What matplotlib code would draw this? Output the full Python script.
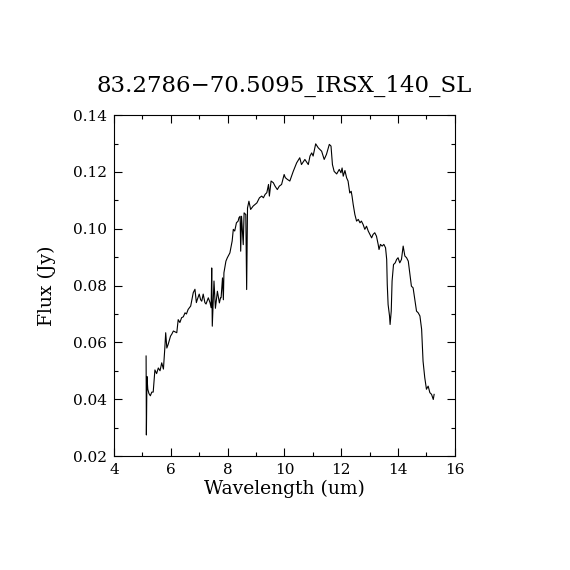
import matplotlib
matplotlib.use("Agg")
import matplotlib.pyplot as plt
from matplotlib.ticker import MultipleLocator

# spectrum (um, Jy)
wavelength = [5.13, 5.14, 5.16, 5.19, 5.23, 5.28, 5.33, 5.38, 5.44, 5.50,
              5.56, 5.62, 5.68, 5.74, 5.79, 5.82, 5.86, 5.91, 5.99, 6.04,
              6.09, 6.21, 6.26, 6.32, 6.38, 6.44, 6.50, 6.55, 6.61, 6.70,
              6.79, 6.85, 6.90, 6.93, 7.00, 7.05, 7.09, 7.14, 7.20, 7.24,
              7.32, 7.38, 7.42, 7.44, 7.46, 7.52, 7.57, 7.64, 7.71, 7.75,
              7.77, 7.82, 7.85, 7.87, 7.94, 7.99, 8.08, 8.16, 8.20, 8.25,
              8.31, 8.37, 8.40, 8.44, 8.46, 8.49, 8.55, 8.58, 8.64, 8.67,
              8.70, 8.75, 8.81, 8.90, 9.03, 9.12, 9.20, 9.26, 9.32, 9.38,
              9.44, 9.47, 9.53, 9.61, 9.67, 9.75, 9.82, 9.90, 9.99, 10.03,
              10.10, 10.19, 10.31, 10.43, 10.54, 10.60, 10.72, 10.84, 10.90, 10.96,
              11.01, 11.10, 11.19, 11.31, 11.40, 11.48, 11.58, 11.64, 11.69, 11.75,
              11.84, 11.93, 11.99, 12.03, 12.07, 12.13, 12.19, 12.24, 12.30, 12.35,
              12.38, 12.42, 12.48, 12.54, 12.60, 12.66, 12.71, 12.77, 12.83, 12.89,
              12.95, 13.01, 13.07, 13.12, 13.18, 13.24, 13.30, 13.33, 13.38, 13.44,
              13.50, 13.56, 13.60, 13.62, 13.65, 13.70, 13.72, 13.76, 13.79, 13.84,
              13.90, 13.95, 14.00, 14.06, 14.12, 14.18, 14.24, 14.30, 14.36, 14.42,
              14.47, 14.53, 14.59, 14.65, 14.71, 14.77, 14.83, 14.88, 14.94, 15.00,
              15.06, 15.12, 15.18, 15.24, 15.27]
flux = [0.0552, 0.0274, 0.0480, 0.0435, 0.0420, 0.0412, 0.0425, 0.0425, 0.0503, 0.0490,
        0.0510, 0.0500, 0.0528, 0.0506, 0.0581, 0.0634, 0.0580, 0.0594, 0.0622, 0.0630,
        0.0640, 0.0634, 0.0680, 0.0670, 0.0687, 0.0690, 0.0704, 0.0700, 0.0716, 0.0728,
        0.0775, 0.0787, 0.0740, 0.0750, 0.0770, 0.0750, 0.0745, 0.0770, 0.0740, 0.0735,
        0.0757, 0.0740, 0.0722, 0.0862, 0.0657, 0.0816, 0.0720, 0.0780, 0.0739, 0.0757,
        0.0757, 0.0827, 0.0750, 0.0845, 0.0886, 0.0898, 0.0915, 0.0957, 0.0998, 0.0992,
        0.1021, 0.1027, 0.1039, 0.1044, 0.0921, 0.1044, 0.0944, 0.1056, 0.1050, 0.0786,
        0.1073, 0.1097, 0.1068, 0.1080, 0.1091, 0.1109, 0.1115, 0.1109, 0.1121, 0.1127,
        0.1156, 0.1115, 0.1168, 0.1162, 0.1150, 0.1138, 0.1150, 0.1156, 0.1191, 0.1180,
        0.1174, 0.1168, 0.1202, 0.1232, 0.1250, 0.1226, 0.1244, 0.1226, 0.1256, 0.1267,
        0.1256, 0.1299, 0.1285, 0.1273, 0.1244, 0.1262, 0.1297, 0.1291, 0.1226, 0.1202,
        0.1193, 0.1209, 0.1197, 0.1214, 0.1185, 0.1205, 0.1179, 0.1168, 0.1126, 0.1132,
        0.1115, 0.1086, 0.1050, 0.1027, 0.1033, 0.1021, 0.1027, 0.1015, 0.0998, 0.1009,
        0.0992, 0.0980, 0.0968, 0.0980, 0.0986, 0.0974, 0.0945, 0.0927, 0.0945, 0.0939,
        0.0945, 0.0933, 0.0892, 0.0804, 0.0733, 0.0693, 0.0663, 0.0710, 0.0816, 0.0874,
        0.0880, 0.0892, 0.0898, 0.0880, 0.0892, 0.0939, 0.0904, 0.0898, 0.0886, 0.0839,
        0.0798, 0.0792, 0.0751, 0.0710, 0.0704, 0.0693, 0.0646, 0.0534, 0.0476, 0.0435,
        0.0446, 0.0423, 0.0417, 0.0399, 0.0417]

title = "83.2786\u221270.5095_IRSX_140_SL"

plt.rcParams['font.family'] = ['DejaVu Serif']

fig = plt.figure(figsize=(5.7, 5.7), dpi=100)
ax = fig.add_axes([0.2, 0.2, 0.598, 0.598])
ax.plot(wavelength, flux, color='black', linewidth=0.8)

ax.set_xlim(4, 16)
ax.set_ylim(0.02, 0.14)
ax.xaxis.set_major_locator(MultipleLocator(2))
ax.xaxis.set_minor_locator(MultipleLocator(1))
ax.yaxis.set_major_locator(MultipleLocator(0.02))
ax.yaxis.set_minor_locator(MultipleLocator(0.01))
ax.yaxis.set_major_formatter(matplotlib.ticker.FormatStrFormatter('%.2f'))
ax.tick_params(which='both', direction='in', top=True, right=True,
               width=0.8, labelsize=11, pad=5)
ax.tick_params(which='major', length=6)
ax.tick_params(which='minor', length=3)
for s in ax.spines.values():
    s.set_linewidth(0.8)

ax.set_xlabel("Wavelength (um)", fontsize=13.5, labelpad=2)
ax.set_ylabel("Flux (Jy)", fontsize=13.5, labelpad=12)
ax.set_title(title, fontsize=16.5, pad=17)

fig.savefig("out.png", dpi=100)
